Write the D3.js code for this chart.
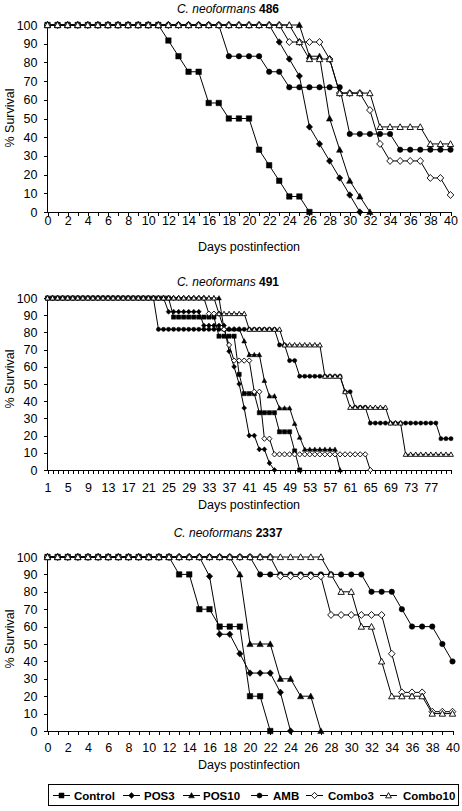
<!DOCTYPE html>
<html><head><meta charset="utf-8">
<script src="https://cdn.jsdelivr.net/npm/d3@7"></script>
<style>
body{margin:0;background:#fff}
svg{display:block}
text{font-family:Arial,"Liberation Sans",sans-serif;fill:#000}
</style>
</head><body>
<svg id="chart" width="462" height="811"></svg>
<script>
// ---------------- DATA ----------------
const seriesNames = ["Control","POS3","POS10","AMB","Combo3","Combo10"];
const yTicks = [0,10,20,30,40,50,60,70,80,90,100];

// Strain 486 (days 0..40)
const days486 = [0,1,2,3,4,5,6,7,8,9,10,11,12,13,14,15,16,17,18,19,20,21,22,23,24,25,26,27,28,29,30,31,32,33,34,35,36,37,38,39,40];
const xLabels486 = [0,2,4,6,8,10,12,14,16,18,20,22,24,26,28,30,32,34,36,38,40];
const control486 = [100,100,100,100,100,100,100,100,100,100,100,100,91.7,83.3,75,75,58.3,58.3,50,50,50,33.3,25,16.7,8.3,8.3,0,null,null,null,null,null,null,null,null,null,null,null,null,null,null];
const pos3_486 = [100,100,100,100,100,100,100,100,100,100,100,100,100,100,100,100,100,100,100,100,100,100,100,90.9,81.8,72.7,45.5,36.4,27.3,18.2,9.1,0,null,null,null,null,null,null,null,null,null];
const pos10_486 = [100,100,100,100,100,100,100,100,100,100,100,100,100,100,100,100,100,100,100,100,100,100,100,100,100,100,83.3,83.3,50,33.3,16.7,8.3,0,null,null,null,null,null,null,null,null];
const amb486 = [100,100,100,100,100,100,100,100,100,100,100,100,100,100,100,100,100,100,83.3,83.3,83.3,83.3,75,75,66.7,66.7,66.7,66.7,66.7,66.7,41.7,41.7,41.7,41.7,41.7,33.3,33.3,33.3,33.3,33.3,33.3];
const combo3_486 = [100,100,100,100,100,100,100,100,100,100,100,100,100,100,100,100,100,100,100,100,100,100,100,100,90.9,90.9,90.9,90.9,81.8,63.6,63.6,63.6,54.5,36.4,27.3,27.3,27.3,27.3,18.2,18.2,9.1];
const combo10_486 = [100,100,100,100,100,100,100,100,100,100,100,100,100,100,100,100,100,100,100,100,100,100,100,100,100,90.9,81.8,81.8,81.8,63.6,63.6,63.6,63.6,45.5,45.5,45.5,45.5,45.5,36.4,36.4,36.4];

// Strain 491 (days 1..81)
const days491 = [1,2,3,4,5,6,7,8,9,10,11,12,13,14,15,16,17,18,19,20,21,22,23,24,25,26,27,28,29,30,31,32,33,34,35,36,37,38,39,40,41,42,43,44,45,46,47,48,49,50,51,52,53,54,55,56,57,58,59,60,61,62,63,64,65,66,67,68,69,70,71,72,73,74,75,76,77,78,79,80,81];
const xLabels491 = [1,5,9,13,17,21,25,29,33,37,41,45,49,53,57,61,65,69,73,77];
const control491 = [100,100,100,100,100,100,100,100,100,100,100,100,100,100,100,100,100,100,100,100,100,100,100,100,100,
  88.9,88.9,88.9,88.9,88.9,88.9,88.9,88.9,88.9,77.8,77.8,77.8,77.8,55.6,44.4,44.4,44.4,33.3,33.3,33.3,33.3,22.2,22.2,22.2,11.1,0,
  null,null,null,null,null,null,null,null,null,null,null,null,null,null,null,null,null,null,null,null,null,null,null,null,null,null,null,null,null,null];
const pos3_491 = [100,100,100,100,100,100,100,100,100,100,100,100,100,100,100,100,100,100,100,100,100,100,100,100,
  92,92,92,92,92,92,92,84,84,84,84,84,69,60,50,36,20,20,12,12,4,0,
  null,null,null,null,null,null,null,null,null,null,null,null,null,null,null,null,null,null,null,null,null,null,null,null,null,null,null,null,null,null,null,null,null,null,null];
const pos10_491 = [100,100,100,100,100,100,100,100,100,100,100,100,100,100,100,100,100,100,100,100,100,100,100,100,100,100,100,100,100,100,100,100,100,100,100,
  82,82,82,82,75,67,67,67,52,43,43,36,36,36,27,19,12,12,12,12,12,12,12,0,
  null,null,null,null,null,null,null,null,null,null,null,null,null,null,null,null,null,null,null,null,null,null];
const amb491 = [100,100,100,100,100,100,100,100,100,100,100,100,100,100,100,100,100,100,100,100,100,100,
  81.8,81.8,81.8,81.8,81.8,81.8,81.8,81.8,81.8,81.8,81.8,81.8,81.8,81.8,81.8,81.8,81.8,81.8,81.8,81.8,81.8,81.8,81.8,81.8,
  72.7,72.7,63.6,63.6,54.5,54.5,54.5,54.5,54.5,54.5,54.5,54.5,54.5,45.5,45.5,36.4,36.4,36.4,
  27.3,27.3,27.3,27.3,27.3,27.3,27.3,27.3,27.3,27.3,27.3,27.3,27.3,27.3,18.2,18.2,18.2];
const combo3_491 = [100,100,100,100,100,100,100,100,100,100,100,100,100,100,100,100,100,100,100,100,100,100,100,100,100,100,100,100,100,100,100,100,
  90.9,90.9,90.9,81.8,72.7,63.6,63.6,63.6,63.6,45.5,45.5,18.2,18.2,
  9.1,9.1,9.1,9.1,9.1,9.1,9.1,9.1,9.1,9.1,9.1,9.1,9.1,9.1,9.1,9.1,9.1,9.1,9.1,0,
  null,null,null,null,null,null,null,null,null,null,null,null,null,null,null,null];
const combo10_491 = [100,100,100,100,100,100,100,100,100,100,100,100,100,100,100,100,100,100,100,100,100,100,100,100,100,100,100,100,100,100,100,100,100,100,
  90.9,90.9,90.9,90.9,90.9,90.9,81.8,81.8,81.8,81.8,81.8,81.8,81.8,72.7,72.7,72.7,72.7,72.7,72.7,72.7,72.7,
  54.5,54.5,54.5,54.5,45.5,36.4,36.4,36.4,36.4,36.4,36.4,36.4,36.4,27.3,27.3,27.3,
  9.1,9.1,9.1,9.1,9.1,9.1,9.1,9.1,9.1,9.1];

// Strain 2337 (days 0..40)
const days2337 = [0,1,2,3,4,5,6,7,8,9,10,11,12,13,14,15,16,17,18,19,20,21,22,23,24,25,26,27,28,29,30,31,32,33,34,35,36,37,38,39,40];
const xLabels2337 = [0,2,4,6,8,10,12,14,16,18,20,22,24,26,28,30,32,34,36,38,40];
const control2337 = [100,100,100,100,100,100,100,100,100,100,100,100,100,90,90,70,70,60,60,60,20,20,0,null,null,null,null,null,null,null,null,null,null,null,null,null,null,null,null,null,null];
const pos3_2337 = [100,100,100,100,100,100,100,100,100,100,100,100,100,100,100,100,88.9,55.6,55.6,44.4,33.3,33.3,33.3,22.2,0,null,null,null,null,null,null,null,null,null,null,null,null,null,null,null,null];
const pos10_2337 = [100,100,100,100,100,100,100,100,100,100,100,100,100,100,100,100,100,100,100,90,50,50,50,30,30,20,20,0,null,null,null,null,null,null,null,null,null,null,null,null,null];
const amb2337 = [100,100,100,100,100,100,100,100,100,100,100,100,100,100,100,100,100,100,100,100,100,90,90,90,90,90,90,90,90,90,90,90,80,80,80,70,60,60,60,50,40];
const combo3_2337 = [100,100,100,100,100,100,100,100,100,100,100,100,100,100,100,100,100,100,100,100,100,100,100,88.9,88.9,88.9,88.9,88.9,66.7,66.7,66.7,66.7,66.7,66.7,44.4,22.2,22.2,22.2,11.1,11.1,11.1];
const combo10_2337 = [100,100,100,100,100,100,100,100,100,100,100,100,100,100,100,100,100,100,100,100,100,100,100,100,100,100,100,100,90,80,80,60,60,40,20,20,20,20,10,10,10];

// ---------------- LAYOUT / STYLE ----------------
const markerType = ["square","diamond","triangle","circle","diamond","triangle"];
const markerFilled = [true,true,true,true,false,false];
const markerScale = [1,1.05,1.05,1,1.1,1.05];
const FONT = "Arial, 'Liberation Sans', sans-serif";

const panels = [
  {strain:"486", days:days486, labels:xLabels486, series:[control486,pos3_486,pos10_486,amb486,combo3_486,combo10_486],
   x0:47.5, x1:450.5, yTop:25, yBot:212, titleY:13, tickY:225, xTitleY:251, yTitleY:118, ms:5.5},
  {strain:"491", days:days491, labels:xLabels491, series:[control491,pos3_491,pos10_491,amb491,combo3_491,combo10_491],
   x0:47.5, x1:451, yTop:298, yBot:470, titleY:286, tickY:491.5, xTitleY:509, yTitleY:379, ms:4.2},
  {strain:"2337", days:days2337, labels:xLabels2337, series:[control2337,pos3_2337,pos10_2337,amb2337,combo3_2337,combo10_2337],
   x0:47.5, x1:452.5, yTop:557, yBot:731, titleY:537, tickY:751.5, xTitleY:769, yTitleY:639, ms:5.5}
];

const svg = d3.select("#chart");

function markerPath(type, s){
  const h = s/2;
  if(type==="square") return `M${-h},${-h}h${s}v${s}h${-s}Z`;
  if(type==="diamond") return `M0,${-h*1.15}L${h*1.1},0L0,${h*1.15}L${-h*1.1},0Z`;
  if(type==="triangle") return `M0,${-h*1.1}L${h*1.1},${h*0.9}L${-h*1.1},${h*0.9}Z`;
  return d3.symbol(d3.symbolCircle, Math.PI*h*h)();
}

panels.forEach(p=>{
  const x = d3.scaleLinear().domain([p.days[0], p.days[p.days.length-1]]).range([p.x0, p.x1]);
  const y = d3.scaleLinear().domain([0,100]).range([p.yBot, p.yTop]);
  const g = svg.append("g");

  // title
  const t = g.append("text").attr("x", 228).attr("y", p.titleY).attr("text-anchor","middle").attr("font-size","12px");
  t.append("tspan").attr("font-style","italic").text("C. neoformans ");
  t.append("tspan").attr("font-weight","bold").text(p.strain);

  // y axis
  const ya = g.append("g").attr("transform",`translate(${p.x0},0)`)
    .call(d3.axisLeft(y).tickValues(yTicks).tickSize(4).tickSizeOuter(0).tickPadding(6));
  ya.selectAll("text").attr("font-size","12.5px").style("font-family",FONT);
  ya.selectAll("path,line").attr("stroke","#000").attr("shape-rendering","crispEdges");
  ya.select(".domain").remove();
  g.append("line").attr("x1",p.x0).attr("x2",p.x0).attr("y1",y(100)).attr("y2",y(0)).attr("stroke","#000").attr("shape-rendering","crispEdges");

  // x axis
  const xa = g.append("g").attr("transform",`translate(0,${p.yBot})`)
    .call(d3.axisBottom(x).tickValues(p.days).tickSize(4).tickSizeOuter(0)
      .tickFormat(d => p.labels.includes(d) ? String(d) : ""));
  xa.selectAll("path,line").attr("stroke","#000").attr("shape-rendering","crispEdges");
  xa.selectAll("text").attr("font-size","12.5px").attr("y", null).attr("dy",null)
    .attr("transform",`translate(0,${p.tickY - p.yBot})`).style("font-family",FONT);

  // axis titles
  g.append("text").attr("x", 249).attr("y", p.xTitleY).attr("text-anchor","middle").attr("font-size","12.5px").text("Days postinfection");
  g.append("text").attr("transform",`translate(14,${p.yTitleY}) rotate(-90)`).attr("text-anchor","middle").attr("font-size","12.5px").text("% Survival");

  // series
  const line = d3.line().defined(d=>d.v!=null).x(d=>x(d.d)).y(d=>y(d.v));
  p.series.forEach((vals,si)=>{
    const pts = vals.map((v,i)=>({d:p.days[i], v}));
    g.append("path").attr("d", line(pts)).attr("fill","none").attr("stroke","#000").attr("stroke-width",1);
    const mp = markerPath(markerType[si], p.ms*markerScale[si]);
    g.selectAll(null).data(pts.filter(d=>d.v!=null)).enter().append("path")
      .attr("d", mp)
      .attr("transform", d=>`translate(${x(d.d)},${y(d.v)})`)
      .attr("fill", markerFilled[si] ? "#000" : "#fff")
      .attr("stroke","#000").attr("stroke-width", markerFilled[si] ? 0.5 : 0.9);
  });
});

// legend
const lg = svg.append("g");
lg.append("rect").attr("x",48.5).attr("y",784.5).attr("width",410).attr("height",21).attr("fill","none").attr("stroke","#000");
const legLineX = [53,123,183,251,306,380];
const legTextX = [74,144,203,273,328,403];
seriesNames.forEach((name,i)=>{
  lg.append("line").attr("x1",legLineX[i]).attr("x2",legLineX[i]+17).attr("y1",795.5).attr("y2",795.5).attr("stroke","#000");
  lg.append("path").attr("d", markerPath(markerType[i], 5*markerScale[i]))
    .attr("transform",`translate(${legLineX[i]+8.5},795.5)`)
    .attr("fill", markerFilled[i] ? "#000" : "#fff").attr("stroke","#000").attr("stroke-width", markerFilled[i]?0.5:0.9);
  lg.append("text").attr("x",legTextX[i]).attr("y",799.5).attr("font-size","11.5px").attr("font-weight","bold").text(name);
});
</script>
</body></html>
